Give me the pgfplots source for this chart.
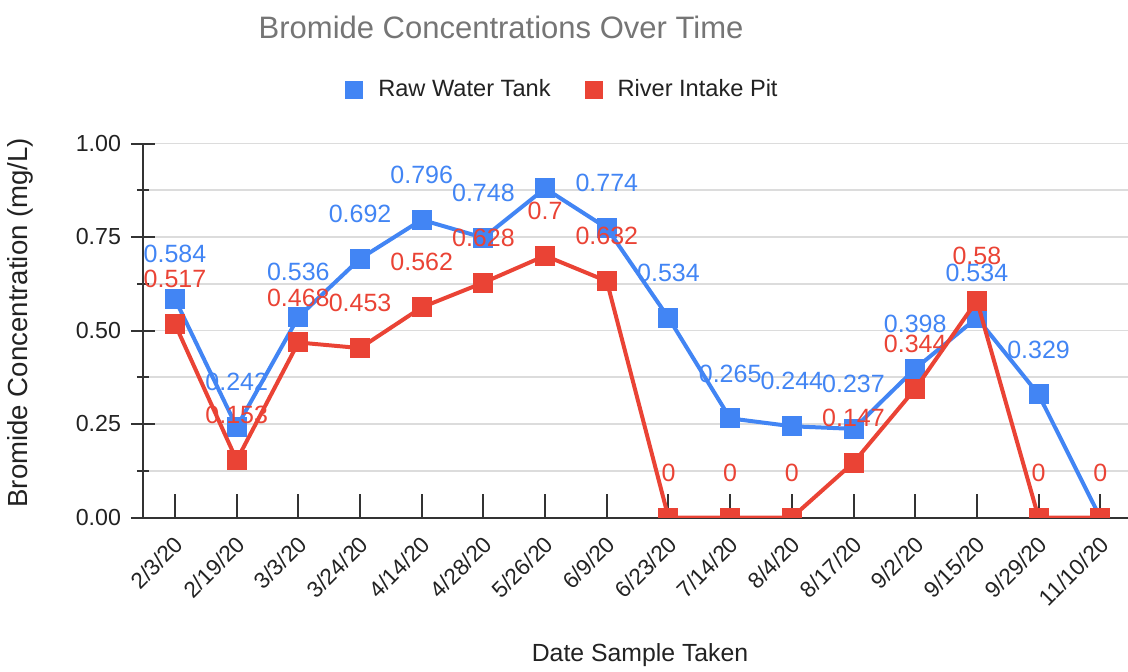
\documentclass[border=0pt]{standalone}
\usepackage{fontspec}
\setmainfont{Liberation Sans}
\usepackage{pgfplots}
\pgfplotsset{compat=1.18}
\usetikzlibrary{calc}
\definecolor{gBlue}{HTML}{4285F4}
\definecolor{gRed}{HTML}{EA4335}
\definecolor{gGrid}{HTML}{DCDCDC}
\definecolor{gAxis}{HTML}{333333}
\definecolor{gTitle}{HTML}{757575}
\definecolor{gText}{HTML}{222222}

\begin{document}
\begin{tikzpicture}
\begin{axis}[
  scale only axis, width=492.5pt, height=187pt,
  xmin=-0.519, xmax=15.45, ymin=0, ymax=1,
  axis x line=bottom, axis y line=left,
  axis line style={-, gAxis, line width=1pt},
  xtick={0,...,15},
  xticklabels={2/3/20,2/19/20,3/3/20,3/24/20,4/14/20,4/28/20,5/26/20,6/9/20,6/23/20,7/14/20,8/4/20,8/17/20,9/2/20,9/15/20,9/29/20,11/10/20},
  ytick={0,0.25,0.5,0.75,1}, minor y tick num=1,
  xtick align=inside, ytick align=center,
  major tick length=12pt, minor tick length=6pt,
  tick style={gAxis, line width=1pt},
  ymajorgrids, yminorgrids,
  major grid style={gGrid, line width=0.8pt},
  minor grid style={gGrid, line width=0.8pt},
  scaled y ticks=false,
  yticklabel style={/pgf/number format/fixed, /pgf/number format/fixed zerofill,
    /pgf/number format/precision=2, /pgf/number format/assume math mode=true,
    font=\fontsize{11.6}{13}\selectfont, text=gText, xshift=-1.5pt},
  xticklabel style={font=\fontsize{11.3}{13}\selectfont, text=gText,
    xshift=4.5pt, yshift=-9pt, rotate=45, anchor=east},
  every axis title shift=0pt,
  title={Bromide Concentrations Over Time},
  title style={at={(0.3635,1.31)}, anchor=center, font=\fontsize{15.5}{18}\selectfont, text=gTitle},
  xlabel={Date Sample Taken},
  xlabel style={at={(0.5046,-0.369)}, anchor=center, font=\fontsize{12.4}{14}\selectfont, text=gText},
  ylabel={Bromide Concentration (mg/L)},
  ylabel style={at={(-0.1249,0.521)}, anchor=center, font=\fontsize{13.8}{15}\selectfont, text=gText},
  legend columns=2,
  legend style={at={(0.205,1.144)}, anchor=west, draw=none, inner sep=0pt,
    font=\fontsize{11.8}{13}\selectfont, text=gText,
    /tikz/every odd column/.append style={column sep=5.5pt},
    /tikz/every even column/.append style={column sep=15pt}},
  legend image code/.code={\fill (0pt,-3.5pt) rectangle (7pt,3.5pt);},
  clip mode=individual, clip marker paths=true,
  point meta=explicit symbolic,
  nodes near coords,
  every node near coord/.append style={font=\fontsize{12.5}{14}\selectfont, anchor=center, yshift=22.5pt},
]
\coordinate (o) at (rel axis cs:0,0);
\addplot[color=gBlue, line width=2pt, mark=square*, mark size=4pt] coordinates {
  (0,0.584) [0.584] (1,0.242) [0.242] (2,0.536) [0.536] (3,0.692) [0.692]
  (4,0.796) [0.796] (5,0.748) [0.748] (6,0.88) [] (7,0.774) [0.774]
  (8,0.534) [0.534] (9,0.265) [0.265] (10,0.244) [0.244] (11,0.237) [0.237]
  (12,0.398) [0.398] (13,0.534) [0.534] (14,0.329) [0.329] (15,0) []
};
\addlegendentry{Raw Water Tank}
\addplot[color=gRed, line width=2pt, mark=square*, mark size=4pt] coordinates {
  (0,0.517) [0.517] (1,0.153) [0.153] (2,0.468) [0.468] (3,0.453) [0.453]
  (4,0.562) [0.562] (5,0.628) [0.628] (6,0.7) [0.7] (7,0.632) [0.632]
  (8,0) [0] (9,0) [0] (10,0) [0] (11,0.147) [0.147]
  (12,0.344) [0.344] (13,0.58) [0.58] (14,0) [0] (15,0) [0]
};
\addlegendentry{River Intake Pit}
\end{axis}
\pgfresetboundingbox
\path ($(o)+(-71.5pt,-76.75pt)$) rectangle ++(564pt,335.5pt);
\end{tikzpicture}
\end{document}
